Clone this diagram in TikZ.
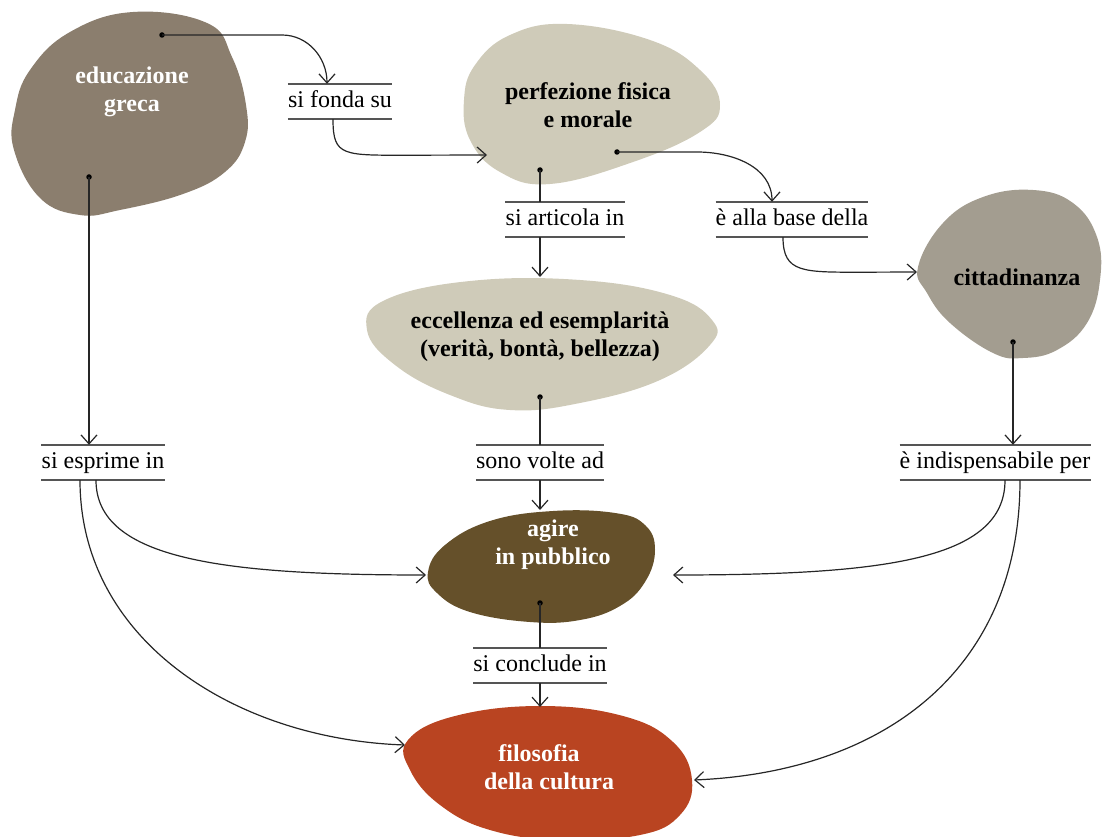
\documentclass[tikz,border=0pt]{standalone}
\usepackage{fontspec}
\setmainfont{Liberation Serif}
\usetikzlibrary{arrows.meta, positioning, calc}

\definecolor{eduBrown}{HTML}{8B7E6E}
\definecolor{paleSand}{HTML}{CFCBB9}
\definecolor{stoneGray}{HTML}{A39D90}
\definecolor{darkOlive}{HTML}{65502A}
\definecolor{rustRed}{HTML}{B94421}
\definecolor{ruleGray}{HTML}{555555}

\begin{document}
\begin{tikzpicture}[x=1pt, y=-1pt,
    conn/.style={draw=black!85, line width=1.2pt, -{Straight Barb[length=9pt,width=16pt]}},
    stem/.style={draw=black!85, line width=1.2pt},
    verb/.style={inner xsep=0pt, inner ysep=0pt, minimum height=35pt, text height=17pt, text depth=5pt, font=\fontsize{24}{28}\selectfont},
    concept/.style={align=center, inner sep=0pt, font=\fontsize{24}{28}\selectfont\bfseries},
    blob/.style={smooth cycle, tension=0.7},
    dot/.style={circle, fill=black, inner sep=0pt, minimum size=5.5pt}]
    \useasboundingbox (0,0) rectangle (1106,837);

    % blobs
    \fill[eduBrown] plot[blob] coordinates {(133,12) (207,23) (232,57) (246,105) (245,142) (225,172) (183,194) (120,210) (80,215) (40,198) (14,150) (15,110) (30,70) (70,32)};
    \fill[paleSand] plot[blob] coordinates {(567,24) (650,40) (700,70) (720,105) (700,132) (633,162) (550,184) (500,172) (470,140) (464,100) (475,65) (510,35)};
    \fill[stoneGray] plot[blob] coordinates {(983,197) (1033,190) (1073,203) (1097,237) (1100,280) (1087,323) (1057,350) (1023,358) (993,353) (950,323) (927,293) (918,267) (943,223)};
    \fill[paleSand] plot[blob] coordinates {(470,281) (580,280) (670,295) (712,320) (710,345) (660,380) (580,403) (510,410) (450,395) (395,365) (367,330) (385,300)};
    \fill[darkOlive] plot[blob] coordinates {(553,511) (615,513) (645,525) (655,550) (645,582) (620,606) (580,620) (530,622) (470,612) (437,593) (428,572) (445,545) (490,521)};
    \fill[rustRed] plot[blob] coordinates {(540,706) (623,716) (673,742) (692,780) (680,815) (640,835) (560,840) (490,830) (440,805) (410,770) (408,740) (455,716)};

    % concepts
    \node[concept, text=white] (edu) at (132,92) {educazione\\greca};
    \node[concept] (perf) at (588,105) {perfezione fisica\\e morale};
    \node[concept] (citt) at (1017,277) {cittadinanza};
    \node[concept] (ecc) at (540,337) {eccellenza ed esemplarità\\(verità, bontà, bellezza)};
    \node[concept, text=white] (agire) at (553,545) {agire\\in pubblico};
    \node[concept, text=white] (filo) at (549,767) {filosofia\hspace*{20pt}\\della cultura};

    % link words
    \node[verb] (fonda) at (340,101.5) {si fonda su};
    \node[verb] (articola) at (565,219.5) {si articola in};
    \node[verb] (base) at (792,219.5) {è alla base della};
    \node[verb] (esprime) at (103,462.5) {si esprime in};
    \node[verb] (volte) at (540,462.5) {sono volte ad};
    \node[verb] (indisp) at (995,462.5) {è indispensabile per};
    \node[verb] (conclude) at (540,665.5) {si conclude in};
    \foreach \v in {fonda,articola,base,esprime,volte,indisp,conclude}
        \draw[ruleGray, line width=1.5pt] (\v.north west) -- (\v.north east) (\v.south west) -- (\v.south east);

    % start dots and arrival points
    \node[dot] (edu-d1) at (162,35) {};
    \node[dot] (edu-d2) at (89,177) {};
    \node[dot] (perf-d1) at (540,170) {};
    \node[dot] (perf-d2) at (617,152) {};
    \node[dot] (ecc-d) at (540,397) {};
    \node[dot] (citt-d) at (1013,342) {};
    \node[dot] (agire-d) at (540,603) {};
    \coordinate (perf-w) at (487,155);
    \coordinate (ecc-n) at (540,277);
    \coordinate (citt-w) at (917,272);
    \coordinate (agire-n) at (540,510);
    \coordinate (agire-w) at (426,575);
    \coordinate (agire-e) at (673,575);
    \coordinate (filo-n) at (540,707);
    \coordinate (filo-w) at (405,745);
    \coordinate (filo-e) at (694,780);

    % connectors
    \draw[conn] (edu-d1.center) -- ++(120,0) to[out=0,in=90] ([xshift=-13pt]fonda.north);
    \draw[conn] ([xshift=-7pt]fonda.south) .. controls +(0,38) and +(-70,0) .. ++(80,36) -- (perf-w);
    \draw[stem] (perf-d1.center) -- (perf-d1 |- articola.north);
    \draw[conn] (articola.south -| perf-d1) -- (ecc-n);
    \draw[conn] (perf-d2.center) -- ++(80,0) to[out=0,in=90] ([xshift=-20pt]base.north);
    \draw[conn] ([xshift=-9pt]base.south) .. controls +(0,36) and +(-60,0) .. ++(80,35) -- (citt-w);
    \draw[conn] (edu-d2.center) -- (edu-d2 |- esprime.north);
    \draw[conn] ([xshift=-7pt]esprime.south) .. controls +(0,80) and +(-200,0) .. (agire-w);
    \draw[conn] ([xshift=-23pt]esprime.south) .. controls +(0,160) and +(-170,-6) .. (filo-w);
    \draw[stem] (ecc-d.center) -- (volte.north);
    \draw[conn] (volte.south) -- (agire-n);
    \draw[conn] (citt-d.center) -- (citt-d |- indisp.north);
    \draw[conn] ([xshift=10pt]indisp.south) .. controls +(0,80) and +(210,0) .. (agire-e);
    \draw[conn] ([xshift=25pt]indisp.south) .. controls +(0,190) and +(190,-8) .. (filo-e);
    \draw[stem] (agire-d.center) -- (conclude.north);
    \draw[conn] (conclude.south) -- (filo-n);
\end{tikzpicture}
\end{document}
